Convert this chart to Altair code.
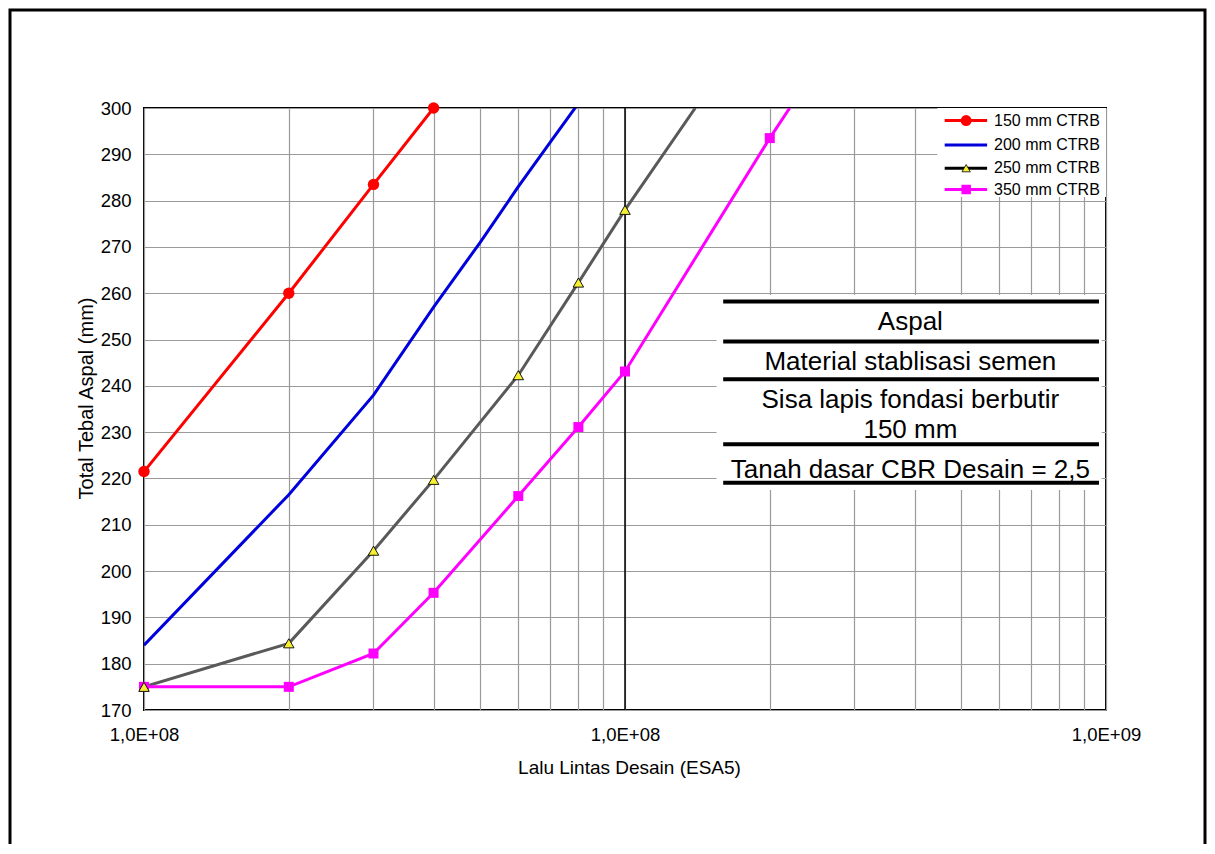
import altair as alt
import pandas as pd

# ---------------- data ----------------
series_names = ["150 mm CTRB", "200 mm CTRB", "250 mm CTRB", "350 mm CTRB"]

x_150 = [1e7, 2e7, 3e7, 4e7]
y_150 = [221.5, 260.0, 283.5, 300.0]
m_150 = [True, True, True, True]

x_200 = [1e7, 2e7, 3e7, 4e7, 5e7, 6e7, 7e7, 8e7]
y_200 = [184.0, 216.5, 238.0, 257.0, 271.0, 283.0, 292.7, 301.0]
m_200 = [False] * 8

x_250 = [1e7, 2e7, 3e7, 4e7, 6e7, 8e7, 1e8, 1.4e8]
y_250 = [175.0, 184.4, 204.4, 219.7, 242.3, 262.3, 278.0, 300.0]
m_250 = [True, True, True, True, True, True, True, False]

x_350 = [1e7, 2e7, 3e7, 4e7, 6e7, 8e7, 1e8, 2e8, 2.2e8]
y_350 = [175.0, 175.0, 182.2, 195.3, 216.2, 231.1, 243.1, 293.5, 300.0]
m_350 = [True, True, True, True, True, True, True, True, False]

x_tick_values = [k * 10 ** e for e in (7, 8) for k in range(1, 10)] + [1e9]
x_tick_labels = {1e7: "1,0E+08", 1e8: "1,0E+08", 1e9: "1,0E+09"}
y_tick_values = list(range(170, 301, 10))

x_title = "Lalu Lintas Desain (ESA5)"
y_title = "Total Tebal Aspal (mm)"

# layer-diagram annotation (in data units)
ann_texts = ["Aspal", "Material stablisasi semen", "Sisa lapis fondasi berbutir",
             "150 mm", "Tanah dasar CBR Desain = 2,5"]
ann_text_y = [252.1, 243.5, 235.3, 228.8, 220.1]
ann_text_x = [3.92e8] * 5
ann_rule_y = [258.2, 249.6, 241.4, 227.4, 219.1]
ann_rule_x1 = 1.6e8
ann_rule_x2 = 9.67e8
ann_box = {"x1": 1.55e8, "x2": 9.8e8, "y1": 217.5, "y2": 259.6}

# legend placement (in data units)
leg_y = [297.3, 292.0, 287.0, 282.4]
leg_x_line = (4.62e8, 5.66e8)
leg_x_mark = 5.12e8
leg_x_text = 5.85e8
leg_box = {"x1": 4.46e8, "x2": 1e9, "y1": 280.8, "y2": 300.0}

# ---------------- styles ----------------
line_colors = ["#ff0000", "#0000dd", "#595959", "#ff00ff"]
legend_line_colors = ["#ff0000", "#0000dd", "#000000", "#ff00ff"]
FONT = "Liberation Sans"

# ---------------- tables ----------------
rows = []
for name, xs, ys, ms in zip(series_names,
                            [x_150, x_200, x_250, x_350],
                            [y_150, y_200, y_250, y_350],
                            [m_150, m_200, m_250, m_350]):
    for xv, yv, mv in zip(xs, ys, ms):
        rows.append({"seri": name, "esa": xv, "tebal": yv, "marker": mv})
df = pd.DataFrame(rows)

ann_df = pd.DataFrame({"txt": ann_texts, "esa": ann_text_x, "tebal": ann_text_y})
ann_rule_df = pd.DataFrame({"tebal": ann_rule_y, "x1": [ann_rule_x1] * 5, "x2": [ann_rule_x2] * 5})
ann_box_df = pd.DataFrame([ann_box])
leg_df = pd.DataFrame({"seri": series_names, "ly": leg_y,
                       "lx1": [leg_x_line[0]] * 4, "lx2": [leg_x_line[1]] * 4,
                       "lm": [leg_x_mark] * 4, "lt": [leg_x_text] * 4,
                       "lc": legend_line_colors})
leg_box_df = pd.DataFrame([leg_box])
vline_df = pd.DataFrame({"esa": [1e8]})

label_expr = " : ".join(
    f"datum.value == {int(v)} ? '{t}'" for v, t in x_tick_labels.items()
) + " : ''"

xscale = alt.Scale(type="log", domain=[1e7, 1e9], nice=False)
yscale = alt.Scale(domain=[170, 300], nice=False, zero=False)

xaxis = alt.Axis(values=x_tick_values, labelExpr=label_expr, title=x_title,
                 grid=True, ticks=False, tickSize=0, labelPadding=30,
                 labelBaseline="alphabetic", labelFontSize=18.5, labelFont=FONT,
                 labelColor="black", labelOverlap=False, labelFlush=False,
                 titleFontSize=19, titleFont=FONT, titleFontWeight="normal",
                 titleColor="black", titleX=485, titleY=63,
                 titleBaseline="alphabetic", titleAlign="center",
                 domain=False)
yaxis = alt.Axis(values=y_tick_values, title=y_title, grid=True, ticks=False,
                 tickSize=0, labelPadding=13, labelFontSize=18.5, labelFont=FONT,
                 labelColor="black", labelFlush=False,
                 titleFontSize=20, titleFont=FONT, titleFontWeight="normal",
                 titleColor="black", titleAngle=-90, titleX=-52, titleY=290,
                 titleBaseline="alphabetic", titleAlign="center", domain=False)

X = alt.X("esa:Q", scale=xscale, axis=xaxis)
Y = alt.Y("tebal:Q", scale=yscale, axis=yaxis)

lines = alt.Chart(df).mark_line(clip=True, strokeWidth=3).encode(
    x=X, y=Y,
    color=alt.Color("seri:N", scale=alt.Scale(domain=series_names, range=line_colors), legend=None),
)

pts = alt.Chart(df).transform_filter("datum.marker")
pts_350 = pts.transform_filter(f"datum.seri == '{series_names[3]}'").mark_point(
    shape="square", filled=True, size=100, color="#ff00ff", opacity=1).encode(x="esa:Q", y="tebal:Q")
pts_250 = pts.transform_filter(f"datum.seri == '{series_names[2]}'").mark_point(
    shape="triangle-up", filled=True, size=110, fill="#f5f032", stroke="black",
    strokeWidth=0.9, opacity=1).encode(x="esa:Q", y="tebal:Q")
pts_150 = pts.transform_filter(f"datum.seri == '{series_names[0]}'").mark_point(
    shape="circle", filled=True, size=130, color="#ff0000", opacity=1).encode(x="esa:Q", y="tebal:Q")

vline = alt.Chart(vline_df).mark_rule(color="black", strokeWidth=1.5).encode(x="esa:Q")

ann_box_l = alt.Chart(ann_box_df).mark_rect(color="white").encode(
    x="x1:Q", x2="x2:Q", y="y1:Q", y2="y2:Q")
ann_rules = alt.Chart(ann_rule_df).mark_rule(color="black", strokeWidth=4).encode(
    x="x1:Q", x2="x2:Q", y="tebal:Q")
ann_txt = alt.Chart(ann_df).mark_text(font=FONT, fontSize=26, color="black",
                                      align="center", baseline="alphabetic").encode(
    x="esa:Q", y="tebal:Q", text="txt:N")

leg_box_l = alt.Chart(leg_box_df).mark_rect(color="white").encode(
    x="x1:Q", x2="x2:Q", y="y1:Q", y2="y2:Q")
leg_lines = alt.Chart(leg_df).mark_rule(strokeWidth=3).encode(
    x="lx1:Q", x2="lx2:Q", y="ly:Q", color=alt.Color("lc:N", scale=None))
leg_base = alt.Chart(leg_df)
leg_c = leg_base.transform_filter(f"datum.seri == '{series_names[0]}'").mark_point(
    shape="circle", filled=True, size=120, color="#ff0000", opacity=1).encode(x="lm:Q", y="ly:Q")
leg_t = leg_base.transform_filter(f"datum.seri == '{series_names[2]}'").mark_point(
    shape="triangle-up", filled=True, size=70, fill="#f5f032", stroke="black",
    strokeWidth=0.8, opacity=1).encode(x="lm:Q", y="ly:Q")
leg_s = leg_base.transform_filter(f"datum.seri == '{series_names[3]}'").mark_point(
    shape="square", filled=True, size=90, color="#ff00ff", opacity=1).encode(x="lm:Q", y="ly:Q")
leg_txt = leg_base.mark_text(font=FONT, fontSize=16, color="black", align="left",
                             baseline="middle").encode(x="lt:Q", y="ly:Q", text="seri:N")

frame = alt.Chart(pd.DataFrame({"a": [0]})).mark_rect(
    fill="transparent", stroke="black", strokeWidth=3).encode(
    x=alt.value(-134), x2=alt.value(1061), y=alt.value(-98), y2=alt.value(760))

chart = alt.layer(
    lines, ann_box_l, leg_box_l, vline,
    pts_350, pts_250, pts_150,
    ann_rules, ann_txt,
    leg_lines, leg_c, leg_t, leg_s, leg_txt,
    frame,
).properties(
    width=962, height=602,
    padding={"left": 136, "top": 100, "right": 101, "bottom": 134},
    autosize=alt.AutoSizeParams(type="none"),
    background="white",
).configure_view(
    stroke="black", strokeWidth=2
).configure_axis(
    gridColor="#9a9a9a", gridWidth=1.2, gridOpacity=1
)

chart.save("out.html", embed_options={"renderer": "svg", "actions": False})
